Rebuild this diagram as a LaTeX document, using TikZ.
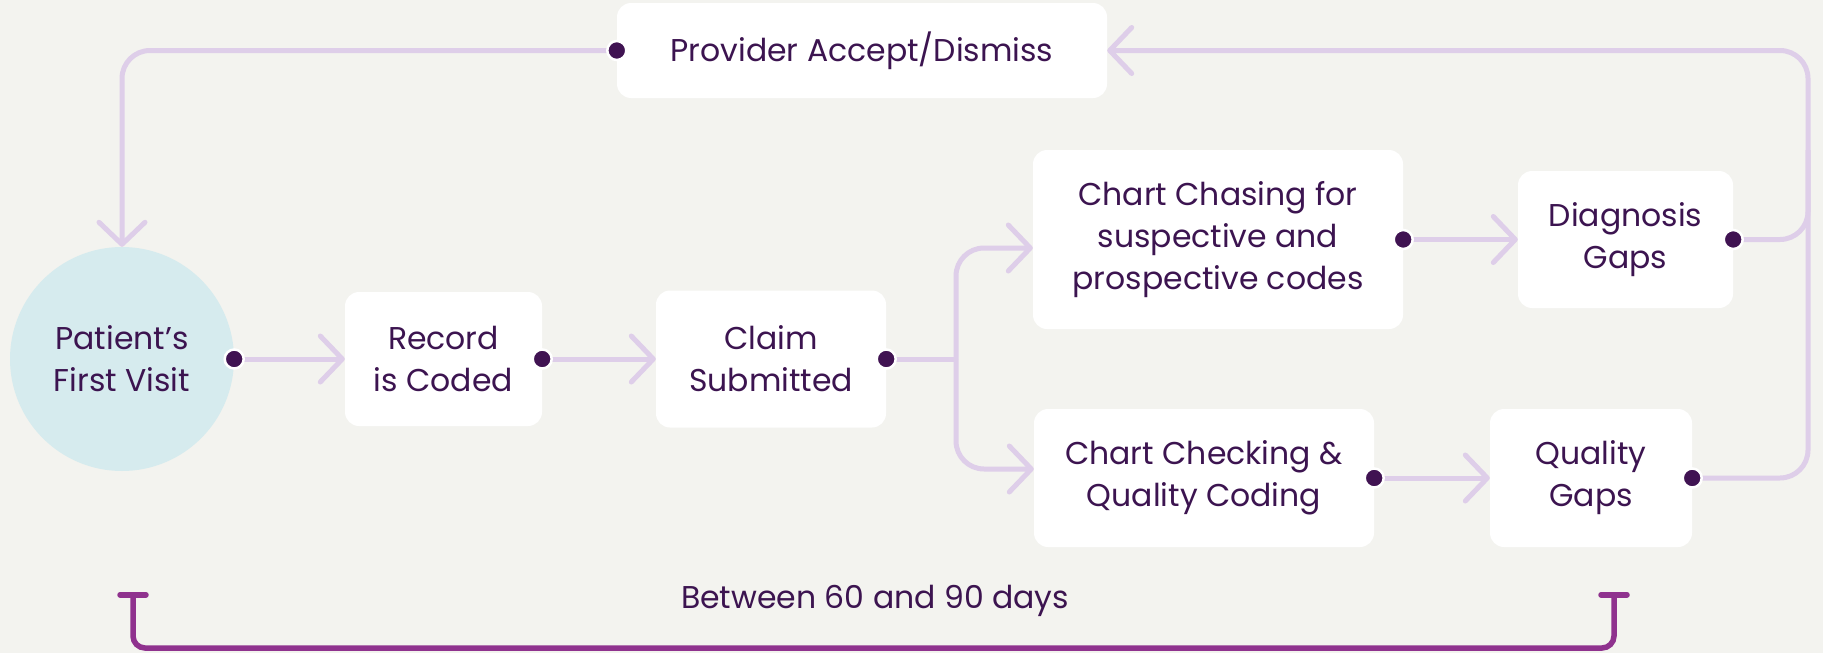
\documentclass[tikz,border=0pt]{standalone}
\usepackage{fontspec}
\setmainfont{Poppins}
\usepackage{xcolor}
\usetikzlibrary{positioning,arrows.meta,calc}
\definecolor{pagegray}{RGB}{243,243,239}
\definecolor{visitblue}{RGB}{214,235,238}
\definecolor{lilac}{RGB}{222,206,233}
\definecolor{inkpurple}{RGB}{60,20,80}
\definecolor{dotpurple}{RGB}{64,19,82}
\definecolor{spanpurple}{RGB}{143,50,142}

\begin{document}
\begin{tikzpicture}[x=1pt,y=-1pt,
    box/.style={fill=white,rounded corners=14pt,align=center,text=inkpurple,
        font=\fontsize{31.5}{42}\selectfont,inner sep=0pt},
    flow/.style={draw=lilac,line width=5pt,rounded corners=28pt},
    tip/.style={-{Straight Barb[length=22pt,width=46pt,round]}},
    pdot/.style={fill=dotpurple,draw=white,line width=2.5pt},
    span/.style={draw=spanpurple,line width=5.5pt,rounded corners=12pt,
        {Bar[width=26pt,round]}-{Bar[width=26pt,round]}}]
    % Background
    \fill[pagegray] (0,0) rectangle (1823,653);
    \useasboundingbox (0,0) rectangle (1823,653);

    % Draw steps
    \node[box,circle,fill=visitblue,minimum size=224pt] (visit) at (122,359) {Patient’s\\First Visit};
    \node[box,minimum width=197pt,minimum height=134pt] (record) at (443.5,359) {Record\\is Coded};
    \node[box,minimum width=230pt,minimum height=137pt] (claim) at (771,359) {Claim\\Submitted};
    \node[box,minimum width=370pt,minimum height=179pt] (chase) at (1218,239.5) {Chart Chasing for\\suspective and\\prospective codes};
    \node[box,minimum width=215pt,minimum height=137pt] (diag) at (1625.5,239.5) {Diagnosis\\Gaps};
    \node[box,minimum width=340pt,minimum height=138pt] (check) at (1204,478) {Chart Checking \&\\Quality Coding};
    \node[box,minimum width=202pt,minimum height=138pt] (qgap) at (1591,478) {Quality\\Gaps};
    \node[box,minimum width=490pt,minimum height=95pt] (prov) at (862,50.5) {Provider Accept/Dismiss};

    % Draw connectors
    \coordinate (split) at (956,359);
    \coordinate (rtop) at (1808,50.5);
    \coordinate (rmid) at (1808,150);
    \draw[flow,tip] (visit.east) -- (record.west);
    \draw[flow,tip] (record.east) -- (claim.west);
    \draw[flow] (claim.east) -- (split);
    \draw[flow,tip] (split) |- ($(chase.west)+(0,8.5)$);
    \draw[flow,tip] (split) |- ($(check.west)+(0,-9)$);
    \draw[flow,tip] (chase.east) -- (diag.west);
    \draw[flow,tip] (check.east) -- (qgap.west);
    \draw[flow] (diag.east) -| (rmid);
    \draw[flow,tip] (qgap.east) -| (rtop) -- (prov.east);
    \draw[flow,tip] (prov.west) -| (visit.north);

    % Draw dots
    \foreach \n in {visit,record,claim,chase,diag,check,qgap}
        \filldraw[pdot] (\n.east) circle (9.5pt);
    \filldraw[pdot] (prov.west) circle (9.5pt);

    % Draw time span
    \coordinate (bl) at (133,592);
    \coordinate (br) at (1614,592);
    \draw[span] (bl) |- ([yshift=-56pt]br) -- (br);
    \node[text=inkpurple,font=\fontsize{31.5}{42}\selectfont] (days) at (875,601) {Between 60 and 90 days};
\end{tikzpicture}
\end{document}
